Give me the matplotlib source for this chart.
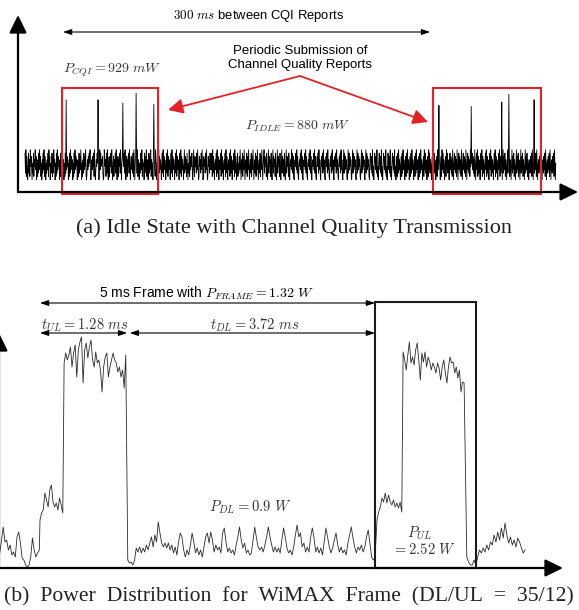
"""
Power traces of a WiMAX modem: idle state with CQI reports (a)
and the power split inside one 5 ms frame (b).
"""

import matplotlib.pyplot as plt
import numpy as np
from matplotlib.patches import Rectangle

plt.rcParams["font.family"] = ["Liberation Sans", "DejaVu Sans"]
plt.rcParams["mathtext.fontset"] = "cm"

# ---------------------------------------------------------------------------
# (a) idle trace: hand-read levels (0..9) of the noisy idle power, one digit
#     per sample, plus the CQI spikes
# ---------------------------------------------------------------------------
IDLE_SPAN_MS = 434.0
IDLE_BASE_MW = 866.0
IDLE_STEP_MW = 3.0
IDLE_LEVELS = [
    "829174038261947305281649370516283947150628391740526381947052",
    "381729460518293746051829374605182937460518293746051829374605",
    "618273940516283749102637485910263748192036485720193846572019",
    "746182930571648293057164829305716482930571648293057164829305",
    "736281940573829164052873916450827391460582739164508273196405",
    "819273640582917364058291736405829173640582917364058291736405",
    "927361840529173648205931746283950174628395017462839501746283",
    "638192740563819274056381927405638192740563819274056381927405",
    "815273940628173950462817395046281739504628173950462817395046",
    "927461830592746183059274618305927461830592746183059274618305",
    "649382710564839271056483927105648392710564839271056483927105",
    "748293610574829361057482936105748293610574829361057482936105",
    "928374610592837461059283746105928374610592837461059283746105",
    "863729140586372914058637291405863729140586372914058637291405",
    "718293640571829364057182936405718293640571829364057182936405",
    "719382640571938264057193826405719382640571938264057193826405",
    "837261940583726194058372619405837261940583726194058372619405",
    "839172640583917264058391726405839172640583917264058391726405",
    "927381640592738164059273816405927381640592738164059273816405",
    "627381940562738194056273819405627381940562738194056273819405",
]
CQI_SPIKE_MS = [33.5, 59.7, 80.1, 90.8, 105.5, 338.5, 364.7, 390.0, 395.7, 416.2]
CQI_SPIKE_MW = [938, 938, 935, 944, 934, 933, 932, 936, 943, 938]
CQI_WINDOWS_MS = [(30.3, 108.7), (333.6, 421.9)]

# ---------------------------------------------------------------------------
# (b) one WiMAX frame, power in mW, piecewise (start ms, end ms, samples)
# ---------------------------------------------------------------------------
DL_HEAD_MW = [850, 980, 1110, 960, 980, 880, 930, 830, 860, 810, 1010, 1060,
              950, 800, 780, 730, 710, 730, 810, 1000, 880, 810, 850, 880]
UL_PRE1_MW = [1180, 1250, 1280, 1450, 1380, 1310, 1480, 1530, 1360, 1310,
              1350, 1280, 1400, 1330, 1250]
UL_BURST1_MW = [2750, 2850, 2780, 2830, 2910, 2710, 2850, 2930, 2610, 2880,
                2960, 3010, 2550, 2880, 2950, 2800, 2910, 2980, 2780, 2710,
                2860, 2750, 2780, 2680, 2460, 2710, 2810, 2850, 2610, 2710,
                2780, 2850, 2780, 2750, 2660, 2710, 2610, 2680, 2500, 2830]
DL_MW = [780, 750, 760, 730, 780, 900, 860, 910, 850, 900, 860, 930, 880, 950,
         1010, 910, 1030, 960, 1160, 1050, 950, 910, 950, 900, 950, 880, 930,
         850, 910, 830, 960, 1050, 1010, 880, 810, 880, 830, 930, 1050, 960,
         850, 900, 830, 880, 810, 910, 1010, 1050, 950, 1060, 980, 860, 930,
         880, 910, 850, 1050, 1100, 960, 860, 900, 850, 880, 830, 930, 1010,
         1110, 980, 900, 950, 850, 880, 830,
         850, 980, 1110, 1000, 910, 880, 910, 860, 930, 1010, 1110, 1010, 930,
         860, 910, 860, 900, 850, 980, 1100, 1010, 900, 850, 880, 830, 910,
         1030, 1130, 1010, 1050, 910, 950, 860, 910, 860, 1010, 1100, 1000,
         860, 910, 850, 900, 830, 960, 1100, 1010, 910, 850, 900, 980, 1050,
         930, 860, 910, 850, 880, 830, 950, 1030, 1110, 1000, 910, 850, 910,
         880, 930, 860, 910, 1010, 1080, 950, 810, 780, 800]
UL_PRE2_MW = [1180, 1260, 1310, 1400, 1360, 1450, 1350, 1430, 1360, 1330,
              1380, 1310, 1350, 1300, 1360, 1260]
UL_BURST2_MW = [2860, 2780, 2680, 2830, 2960, 2750, 2810, 2730, 2880, 2950,
                2780, 2580, 2850, 2760, 2860, 2710, 2810, 2760, 2680, 2750,
                2710, 2650, 2750, 2700, 2580, 2710, 2780, 2650, 2550, 2710,
                2810, 2750, 2760, 2650, 2710, 2600, 2680, 2460, 2560, 2550]
DL_TAIL_MW = [810, 760, 730, 730, 780, 730, 810, 880, 850, 900, 860, 930, 880,
              960, 930, 1030, 960, 1060, 980, 1100, 1000, 1150, 1030, 950, 1010,
              930, 980, 910, 1000, 960, 900, 850, 880]
FRAME_SEGMENTS = [
    (-0.60, -0.01, DL_HEAD_MW),
    (0.00, 0.34, UL_PRE1_MW),
    (0.36, 1.28, UL_BURST1_MW),
    (1.31, 5.00, DL_MW),
    (5.03, 5.40, UL_PRE2_MW),
    (5.42, 6.33, UL_BURST2_MW),
    (6.37, 7.24, DL_TAIL_MW),
]
FRAME_MS = 5.0
T_UL_MS = 1.28
UL_WINDOW_MS = (5.0, 6.51)


def _arrow(ax, tail, tip, style, color="black", lw=0.8, scale=10):
    ax.annotate("", xy=tip, xytext=tail, annotation_clip=False,
                arrowprops=dict(arrowstyle=style, color=color, lw=lw,
                                mutation_scale=scale, shrinkA=0, shrinkB=0))


AXIS_HEAD = "-|>,head_length=0.45,head_width=0.22"
DIM_HEAD = "<|-|>,head_length=0.5,head_width=0.17"
MATH_GREY = "#333333"

fig = plt.figure(figsize=(5.79, 6.10), dpi=100)

# ----------------------------- panel (a) ----------------------------------
ax_a = fig.add_axes([0, 410 / 610, 1, 200 / 610])
ax_a.set_xlim(-20.44, 452.98)
ax_a.set_ylim(847.8, 1027.8)
ax_a.axis("off")

levels = np.array([int(c) for c in "".join(IDLE_LEVELS)], dtype=float)
idle_mw = IDLE_BASE_MW + IDLE_STEP_MW * levels
idle_t = np.linspace(0, IDLE_SPAN_MS, len(idle_mw))
for t, p in zip(CQI_SPIKE_MS, CQI_SPIKE_MW):
    idle_mw[np.argmin(np.abs(idle_t - t))] = p
ax_a.plot(idle_t, idle_mw, color="black", lw=0.6)

for t0, t1 in CQI_WINDOWS_MS:
    ax_a.add_patch(Rectangle((t0, 853.2), t1 - t0, 95.4, fill=False,
                             ec="#e32227", lw=1.5, zorder=3))

_arrow(ax_a, (-5.72, 855), (-5.72, 1014.3), AXIS_HEAD, lw=1.6, scale=24)
_arrow(ax_a, (-5.72, 855), (452.2, 855), AXIS_HEAD, lw=1.6, scale=24)

_arrow(ax_a, (31.1, 999), (331.2, 999), DIM_HEAD, lw=0.8)
ax_a.text(191.3, 1013.4, r"$300\ ms$ between CQI Reports", ha="center",
          va="center", fontsize=9.4)
ax_a.text(224.9, 975.6, "Periodic Submission of\nChannel Quality Reports",
          ha="center", va="center", fontsize=9.5, linespacing=1.15)
ax_a.text(31.1, 964.8, r"$P_{CQI} = 929\ mW$", ha="left", va="center",
          fontsize=10, color=MATH_GREY)
ax_a.text(222.8, 914.4, r"$P_{IDLE} = 880\ mW$", ha="center", va="center",
          fontsize=10, color=MATH_GREY)

red_head = "-|>,head_length=0.5,head_width=0.25"
_arrow(ax_a, (224.9, 959.4), (116.9, 928.8), red_head, color="#e32227",
       lw=1.3, scale=18)
_arrow(ax_a, (224.9, 959.4), (329.5, 918.0), red_head, color="#e32227",
       lw=1.3, scale=18)

# ----------------------------- panel (b) ----------------------------------
ax_b = fig.add_axes([0, 30 / 610, 1, 300 / 610])
ax_b.set_xlim(-0.597, 8.045)
ax_b.set_ylim(580, 3580)
ax_b.axis("off")

frame_t = np.concatenate([np.linspace(a, b, len(v)) for a, b, v in FRAME_SEGMENTS])
frame_mw = np.concatenate([v for _, _, v in FRAME_SEGMENTS])
ax_b.plot(frame_t, frame_mw, color="#2a2a2a", lw=0.6)

ax_b.add_patch(Rectangle((UL_WINDOW_MS[0], 700), UL_WINDOW_MS[1] - UL_WINDOW_MS[0],
                         2660, fill=False, ec="#1a1a1a", lw=1.5, zorder=3))

_arrow(ax_b, (-0.612, 700), (-0.612, 3050), AXIS_HEAD, lw=1.6, scale=24)
_arrow(ax_b, (-0.597, 700), (7.806, 700), AXIS_HEAD, lw=1.6, scale=24)

_arrow(ax_b, (0, 3350), (FRAME_MS, 3350), DIM_HEAD, lw=0.8)
_arrow(ax_b, (0, 3050), (T_UL_MS + 0.02, 3050), DIM_HEAD, lw=0.8)
_arrow(ax_b, (T_UL_MS + 0.06, 3050), (FRAME_MS, 3050), DIM_HEAD, lw=0.8)

ax_b.text(2.48, 3450, r"5 ms Frame with $P_{FRAME} = 1.32\ W$", ha="center",
          va="center", fontsize=10)
ax_b.text(0.67, 3130, r"$t_{UL} = 1.28\ ms$", ha="center", va="center",
          fontsize=10.5, color=MATH_GREY)
ax_b.text(3.21, 3130, r"$t_{DL} = 3.72\ ms$", ha="center", va="center",
          fontsize=10.5, color=MATH_GREY)
ax_b.text(3.13, 1310, r"$P_{DL} = 0.9\ W$", ha="center", va="center",
          fontsize=10.5, color=MATH_GREY)
ax_b.text(5.66, 1050, r"$P_{UL}$", ha="center", va="center", fontsize=10.5,
          color=MATH_GREY)
ax_b.text(5.73, 890, r"$= 2.52\ W$", ha="center", va="center", fontsize=10.5,
          color=MATH_GREY)

# ----------------------------- captions -----------------------------------
cap = dict(ha="center", va="center", family=["Liberation Serif", "DejaVu Serif"],
           color="#222222")
fig.text(294 / 579, 1 - 228 / 610,
         "(a) Idle State with Channel Quality Transmission", fontsize=16, **cap)
fig.text(289 / 579, 1 - 597 / 610,
         "(b) Power Distribution for WiMAX Frame (DL/UL = 35/12)".replace(" ", "\u2002"),
         fontsize=15.6, **cap)

fig.savefig("out.png", dpi=100)
